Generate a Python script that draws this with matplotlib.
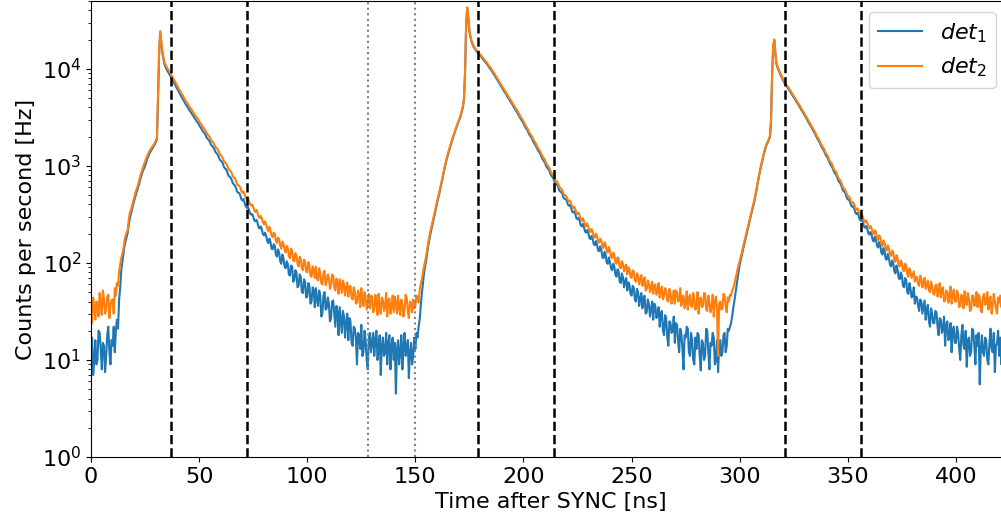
import numpy as np
from matplotlib import pyplot as plt

# time bins, 0.5 ns wide (the right edge of the axes runs a little past the picture)
time_ns = np.arange(0, 425.5, 0.5)

# counts per second for det_2 (orange); one row = 10 ns
det2_cps = [
    31, 24, 44, 35, 26, 40, 38, 28, 49, 37, 29, 52, 42, 30, 33, 45, 47, 27, 36, 41,
    42, 30, 55, 46, 62, 58, 82, 96, 112, 125, 140, 170, 192, 205, 221, 285, 330, 350, 392, 430,
    470, 525, 570, 610, 670, 745, 820, 890, 960, 1030, 1100, 1190, 1260, 1340, 1420, 1470, 1540, 1600, 1650, 1730,
    1830, 1950, 5200, 15000, 24500, 19500, 15200, 13200, 11700, 11000, 10400, 10000, 9600, 9200, 8800, 8350, 8000, 7600, 7300, 6950,
    6650, 6280, 6050, 5720, 5500, 5310, 5020, 4780, 4620, 4460, 4260, 4050, 3950, 3800, 3660, 3490, 3380, 3230, 3130, 3040,
    2900, 2760, 2690, 2560, 2470, 2390, 2300, 2180, 2100, 2040, 1960, 1850, 1790, 1740, 1670, 1570, 1520, 1490, 1420, 1330,
    1290, 1260, 1200, 1120, 1080, 1060, 1010, 940, 905, 890, 850, 790, 760, 750, 705, 650, 630, 625, 600, 555,
    530, 545, 510, 470, 450, 468, 440, 405, 390, 400, 378, 350, 335, 352, 330, 300, 290, 305, 288, 262,
    250, 268, 248, 225, 212, 236, 215, 192, 184, 205, 200, 170, 160, 182, 175, 150, 140, 166, 158, 138,
    128, 150, 142, 118, 112, 140, 134, 106, 104, 126, 120, 98, 92, 116, 110, 88, 84, 108, 103, 82,
    80, 102, 95, 74, 72, 92, 86, 70, 91, 68, 66, 88, 78, 62, 60, 79, 83, 59, 64, 76,
    70, 54, 58, 76, 74, 56, 52, 69, 62, 48, 68, 58, 49, 66, 60, 46, 55, 63, 45, 57,
    58, 44, 42, 56, 50, 38, 39, 52, 47, 35, 55, 41, 36, 50, 44, 33, 40, 48, 34, 46,
    45, 31, 33, 47, 38, 29, 48, 36, 30, 44, 41, 32, 36, 49, 28, 40, 43, 30, 35, 46,
    31, 45, 39, 30, 46, 35, 29, 42, 37, 28, 33, 47, 44, 32, 27, 40, 38, 31, 42, 34,
    36, 46, 42, 39, 52, 60, 68, 80, 92, 104, 118, 140, 165, 190, 215, 240, 265, 300, 335, 380,
    430, 475, 525, 590, 660, 750, 860, 965, 1080, 1200, 1320, 1450, 1580, 1720, 1870, 2020, 2180, 2360, 2550, 2720,
    2900, 3120, 3350, 3700, 4100, 5000, 9500, 30000, 43000, 34000, 25000, 21500, 19500, 18200, 17100, 16500, 15900, 15300, 14800, 14400,
    14100, 13600, 13200, 12800, 12400, 12000, 11700, 11200, 10800, 10500, 10100, 9700, 9300, 8950, 8600, 8250, 7900, 7550, 7250, 6950,
    6700, 6400, 6150, 5900, 5680, 5420, 5200, 4980, 4780, 4600, 4420, 4220, 4050, 3880, 3740, 3570, 3420, 3260, 3120, 3000,
    2870, 2720, 2590, 2500, 2390, 2260, 2160, 2090, 1990, 1880, 1790, 1730, 1650, 1560, 1490, 1440, 1370, 1290, 1230, 1190,
    1140, 1060, 1020, 990, 950, 880, 840, 820, 780, 725, 700, 690, 660, 610, 590, 580, 560, 515, 500, 495,
    480, 445, 430, 438, 412, 380, 368, 378, 356, 325, 318, 330, 305, 280, 272, 288, 268, 245, 238, 255,
    236, 212, 208, 224, 209, 186, 182, 200, 188, 165, 162, 178, 168, 148, 142, 163, 155, 132, 128, 146,
    132, 116, 112, 128, 122, 100, 98, 114, 110, 90, 88, 104, 98, 82, 92, 96, 76, 90, 86, 72,
    70, 84, 82, 66, 64, 78, 74, 60, 68, 75, 58, 63, 71, 52, 54, 66, 62, 50, 56, 64,
    48, 58, 60, 47, 51, 62, 44, 53, 57, 42, 46, 55, 52, 41, 40, 54, 49, 38, 43, 52,
    38, 52, 50, 40, 41, 55, 36, 45, 46, 34, 39, 51, 33, 43, 47, 36, 35, 49, 42, 33,
    37, 50, 30, 42, 44, 35, 36, 49, 48, 33, 32, 46, 39, 31, 35, 47, 28, 40, 45, 34,
    11, 38, 40, 33, 34, 48, 46, 36, 31, 44, 40, 47, 46, 52, 55, 60, 68, 76, 86, 95,
    106, 116, 128, 145, 162, 180, 200, 222, 248, 275, 305, 340, 380, 420, 470, 540, 620, 720, 820, 930,
    1050, 1170, 1300, 1450, 1590, 1700, 1800, 1900, 2050, 3000, 9000, 17500, 20000, 14500, 11500, 10600, 9900, 9300, 8800, 8300,
    7900, 7500, 7150, 6900, 6650, 6400, 6180, 5920, 5700, 5460, 5250, 5030, 4830, 4640, 4470, 4260, 4080, 3920, 3760, 3600,
    3440, 3290, 3160, 3010, 2870, 2760, 2640, 2500, 2390, 2300, 2190, 2070, 1970, 1900, 1810, 1700, 1620, 1560, 1490, 1400,
    1330, 1290, 1220, 1140, 1090, 1060, 1000, 930, 890, 870, 820, 760, 725, 710, 670, 620, 590, 580, 550, 510,
    490, 485, 462, 430, 415, 420, 398, 365, 352, 365, 342, 315, 305, 318, 296, 270, 262, 275, 258, 236,
    228, 240, 226, 205, 196, 218, 208, 180, 172, 192, 182, 158, 150, 170, 162, 140, 134, 152, 140, 124,
    118, 134, 128, 108, 103, 120, 112, 94, 92, 106, 100, 84, 82, 98, 94, 76, 72, 88, 80, 70,
    76, 82, 64, 70, 72, 60, 58, 74, 68, 56, 62, 70, 54, 60, 66, 52, 50, 64, 58, 48,
    47, 58, 60, 45, 52, 62, 44, 54, 56, 40, 41, 52, 50, 39, 46, 57, 38, 47, 53, 40,
    40, 52, 48, 35, 36, 47, 45, 34, 51, 42, 37, 49, 43, 32, 33, 46, 46, 36, 39, 50,
    35, 47, 44, 32, 31, 45, 48, 37, 38, 50, 33, 41, 45, 30, 36, 48, 41, 34, 30, 44,
    39, 46, 35, 42, 50, 33, 40, 47, 36, 44, 38,
]

# counts per second for det_1 (blue)
det1_cps = [
    12, 17, 7, 10, 16, 9, 10, 20, 19, 13, 8, 15, 14, 7.5, 11, 18, 22, 12, 9, 16,
    14, 22, 12, 20, 26, 21, 42, 55, 85, 102, 125, 150, 168, 185, 205, 250, 290, 325, 360, 400,
    440, 485, 530, 570, 620, 690, 760, 820, 890, 940, 1000, 1090, 1180, 1260, 1340, 1400, 1460, 1530, 1590, 1670,
    1760, 1880, 4900, 14400, 23500, 18800, 14600, 12600, 11100, 10400, 9800, 9400, 9000, 8600, 8200, 7800, 7450, 7100, 6800, 6450,
    6150, 5850, 5600, 5300, 5080, 4880, 4640, 4420, 4250, 4100, 3920, 3740, 3620, 3480, 3350, 3210, 3090, 2960, 2850, 2760,
    2640, 2520, 2440, 2310, 2240, 2170, 2080, 1950, 1890, 1840, 1760, 1650, 1600, 1560, 1490, 1400, 1350, 1320, 1250, 1170,
    1130, 1110, 1050, 970, 940, 920, 870, 800, 775, 760, 725, 670, 645, 630, 595, 545, 530, 525, 500, 455,
    440, 455, 420, 385, 370, 382, 358, 325, 315, 320, 300, 275, 268, 278, 260, 232, 226, 238, 222, 198,
    192, 205, 190, 168, 160, 178, 165, 140, 138, 156, 150, 122, 116, 138, 128, 104, 98, 122, 112, 92,
    88, 104, 98, 76, 74, 94, 92, 64, 66, 84, 80, 56, 58, 76, 72, 50, 49, 68, 64, 44,
    45, 62, 58, 38, 40, 56, 52, 35, 55, 42, 36, 52, 47, 28, 30, 46, 50, 33, 34, 44,
    38, 25, 27, 40, 41, 30, 22, 36, 31, 18, 35, 26, 19, 32, 28, 17, 24, 30, 16, 27,
    25, 15, 14, 22, 21, 17, 9, 19, 18, 13, 23, 11, 12, 20, 16, 10, 8, 17, 19, 12,
    15, 19, 11, 16, 20, 10, 13, 18, 7, 14, 17, 11, 12, 19, 9, 15, 18, 8, 14, 17,
    10, 15, 4.5, 13, 16, 9, 12, 18, 8, 14, 19, 11, 13, 16, 6.5, 12, 15, 9, 11, 17,
    13, 19, 17, 22, 26, 36, 48, 62, 78, 92, 106, 128, 152, 176, 200, 226, 252, 285, 318, 360,
    410, 455, 505, 570, 640, 730, 830, 940, 1050, 1170, 1290, 1410, 1540, 1680, 1830, 1980, 2140, 2320, 2500, 2670,
    2850, 3060, 3280, 3620, 4020, 4900, 9300, 29000, 42000, 33000, 24400, 21000, 19000, 17800, 16700, 16100, 15500, 14900, 14400, 14000,
    13700, 13200, 12800, 12400, 12000, 11600, 11300, 10850, 10450, 10100, 9750, 9350, 8980, 8650, 8300, 7950, 7620, 7300, 6990, 6700,
    6450, 6150, 5920, 5680, 5460, 5200, 5000, 4780, 4590, 4420, 4240, 4040, 3880, 3730, 3580, 3410, 3270, 3110, 2980, 2870,
    2740, 2590, 2470, 2390, 2280, 2140, 2050, 1990, 1890, 1780, 1700, 1640, 1560, 1470, 1410, 1360, 1290, 1210, 1160, 1120,
    1070, 990, 955, 930, 890, 820, 785, 765, 725, 670, 650, 640, 610, 560, 545, 535, 515, 470, 458, 455,
    438, 400, 390, 396, 372, 340, 330, 340, 318, 288, 282, 292, 270, 244, 238, 252, 232, 210, 205, 218,
    202, 180, 176, 190, 176, 156, 152, 168, 156, 134, 132, 148, 136, 114, 112, 130, 122, 100, 98, 114,
    102, 88, 84, 98, 92, 76, 72, 86, 82, 64, 62, 78, 71, 56, 65, 70, 52, 63, 60, 48,
    46, 58, 56, 42, 40, 54, 50, 36, 43, 49, 34, 44, 46, 30, 31, 42, 38, 28, 33, 40,
    26, 38, 36, 27, 29, 35, 22, 30, 32, 20, 18, 29, 27, 17, 14, 25, 24, 19, 20, 28,
    15, 24, 23, 16, 12, 21, 19, 13, 8, 18, 17, 22, 21, 12, 11, 19, 16, 10, 9, 17,
    13, 19, 18, 11, 7.8, 16, 15, 10, 11, 21, 20, 12, 8, 15, 14, 19, 17, 9, 10, 16,
    7.5, 14, 16, 11, 12, 18, 19, 12, 14, 21, 20, 22, 24, 28, 34, 40, 48, 58, 70, 82,
    96, 108, 120, 136, 152, 170, 190, 212, 238, 265, 295, 330, 365, 405, 455, 520, 600, 700, 800, 910,
    1020, 1140, 1270, 1410, 1550, 1660, 1760, 1860, 2000, 2900, 8800, 17100, 19600, 14200, 11200, 10300, 9650, 9050, 8550, 8050,
    7650, 7280, 6950, 6700, 6450, 6200, 5990, 5740, 5520, 5290, 5080, 4860, 4670, 4490, 4320, 4120, 3940, 3790, 3630, 3480,
    3320, 3180, 3050, 2900, 2760, 2650, 2540, 2410, 2300, 2200, 2100, 1990, 1890, 1820, 1730, 1630, 1550, 1490, 1420, 1340,
    1265, 1225, 1160, 1080, 1030, 1000, 945, 880, 840, 815, 770, 715, 680, 665, 625, 575, 550, 540, 510, 470,
    452, 448, 425, 392, 380, 385, 362, 330, 318, 328, 308, 280, 272, 282, 262, 236, 230, 240, 225, 202,
    196, 208, 194, 172, 166, 186, 176, 150, 144, 164, 152, 128, 122, 142, 132, 110, 108, 124, 112, 96,
    92, 106, 100, 82, 78, 94, 86, 70, 68, 80, 74, 58, 56, 70, 66, 50, 48, 62, 54, 44,
    46, 56, 38, 45, 44, 36, 32, 42, 40, 30, 35, 41, 26, 33, 37, 25, 22, 34, 30, 24,
    24, 32, 31, 22, 18, 27, 26, 19, 21, 28, 14, 23, 25, 16, 17, 24, 12, 20, 22, 15,
    15, 22, 19, 13, 10, 18, 23, 14, 13, 20, 8.5, 16, 17, 11, 12, 21, 20, 14, 9, 18,
    14, 19, 5.6, 13, 18, 12, 11, 17, 16, 10, 9, 15, 21, 13, 12, 19, 7.5, 14, 15, 20,
    11, 17, 9, 14, 19, 12, 8, 16, 13, 20, 10,
]

gate_edges = [37, 72, 179, 214, 321, 356]   # dashed black
bg_window = [128, 150]                       # dotted grey

assert len(det1_cps) == len(time_ns) == len(det2_cps)

fig = plt.figure(figsize=(10.01, 5.22), dpi=100)
# axes runs slightly past the right border, so no right spine is visible
ax = fig.add_axes([91 / 1001, 65 / 522, 919 / 1001, 456 / 522])

ax.plot(time_ns, det1_cps, lw=1.5, label='$det_1$')
ax.plot(time_ns, det2_cps, lw=1.5, label='$det_2$')

for xv in gate_edges:
    ax.axvline(xv, color='k', ls='--', lw=1.8)
for xv in bg_window:
    ax.axvline(xv, color='gray', ls=':', lw=1.5)

ax.set_yscale('log')
ax.set_ylim(1, 5e4)
ax.set_xlim(0, 425)
ax.set_xticks(np.arange(0, 401, 50))
ax.tick_params(labelsize=16)
ax.set_xlabel('Time after SYNC [ns]', fontsize=16)
ax.set_ylabel('Counts per second [Hz]', fontsize=16)
ax.legend(loc='upper right', bbox_to_anchor=(0.9967, 1.0), fontsize=16)

fig.savefig('out.png', dpi=100)
